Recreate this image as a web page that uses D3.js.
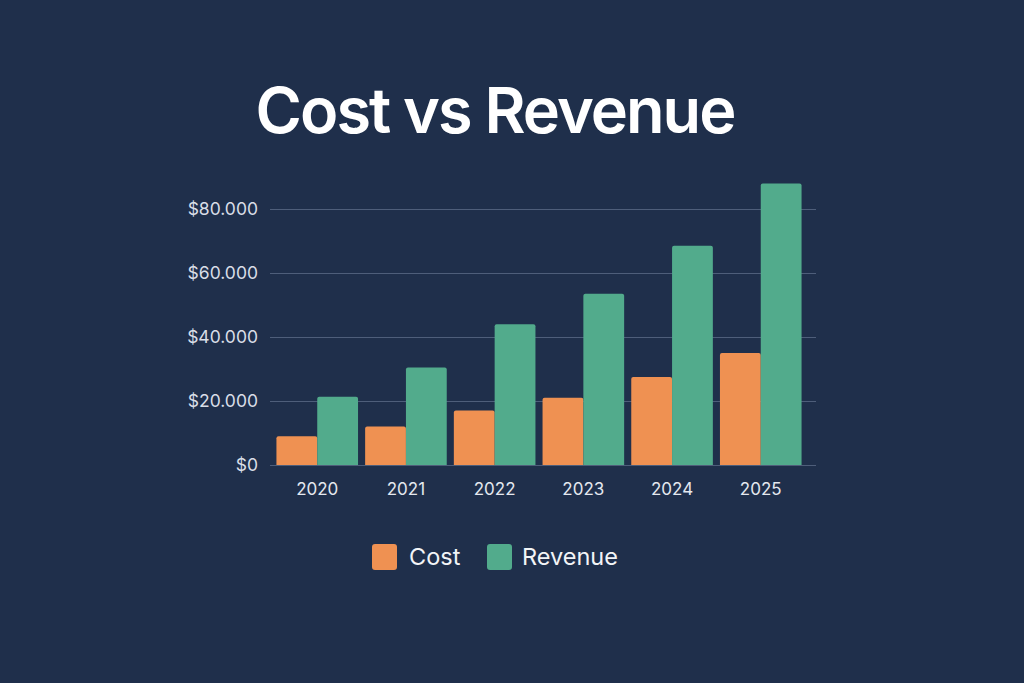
<!DOCTYPE html>
<html>
<head>
<meta charset="utf-8">
<script src="https://cdn.jsdelivr.net/npm/d3@7"></script>
<style>
  html, body { margin: 0; padding: 0; background: #1f2f4b; }
  svg { display: block; font-family: Inter, "Noto Sans", sans-serif; }
</style>
</head>
<body>
<div id="chart"></div>
<script>
// data
const years = ["2020", "2021", "2022", "2023", "2024", "2025"];
const cost = [9000, 12000, 17000, 21000, 27500, 35000];
const revenue = [21300, 30500, 44000, 53500, 68500, 88000];
const series = ["Cost", "Revenue"];
const yTicks = [0, 20000, 40000, 60000, 80000];

const width = 1024, height = 683;
const colors = { Cost: "#ef9152", Revenue: "#52ab8c" };

const svg = d3.select("#chart").append("svg")
  .attr("width", width)
  .attr("height", height);

svg.append("rect")
  .attr("width", width)
  .attr("height", height)
  .attr("fill", "#1f2f4b");

// title
svg.append("text")
  .attr("x", 495)
  .attr("y", 133)
  .attr("text-anchor", "middle")
  .attr("fill", "#ffffff")
  .attr("font-size", "63px")
  .attr("font-weight", 600)
  .attr("letter-spacing", "-2px")
  .text("Cost vs Revenue");

// scales
var x = d3.scaleBand()
  .domain(years)
  .range([272, 806])
  .paddingInner(0.08)
  .paddingOuter(0.05);

var xSub = d3.scaleBand()
  .domain(series)
  .range([0, x.bandwidth()]);

var y = d3.scaleLinear()
  .domain([0, 80000])
  .range([465, 209]);

const locale = d3.formatLocale({ decimal: ",", thousands: ".", grouping: [3], currency: ["$", ""] });
const fmt = locale.format("$,.0f");

// gridlines + y labels
var yAxis = d3.axisLeft(y)
  .tickValues(yTicks)
  .tickFormat(fmt)
  .tickSize(-(816 - 270))
  .tickPadding(12);

const yAxisGroup = svg.append("g")
  .attr("transform", "translate(270,0)")
  .call(yAxis);

yAxisGroup.select(".domain").remove();
yAxisGroup.selectAll(".tick line")
  .attr("stroke", "#4e5e7a")
  .attr("stroke-width", 1);
yAxisGroup.selectAll(".tick text")
  .attr("fill", "#d9dee7")
  .attr("font-size", "17.5px")
  .attr("font-family", "Inter, 'Noto Sans', sans-serif");

// x labels
var xAxis = d3.axisBottom(x).tickSize(0).tickPadding(16);
const xAxisGroup = svg.append("g")
  .attr("transform", "translate(0,467)")
  .call(xAxis);
xAxisGroup.select(".domain").remove();
xAxisGroup.selectAll(".tick text")
  .attr("fill", "#e4e8ef")
  .attr("font-size", "17px")
  .attr("font-family", "Inter, 'Noto Sans', sans-serif");

// bars
const rows = years.map((yr, i) => ({ year: yr, Cost: cost[i], Revenue: revenue[i] }));

function barPath(x0, w, top, bottom, r) {
  return `M${x0},${bottom}V${top + r}Q${x0},${top} ${x0 + r},${top}H${x0 + w - r}Q${x0 + w},${top} ${x0 + w},${top + r}V${bottom}Z`;
}

const groups = svg.selectAll(".group")
  .data(rows)
  .enter().append("g")
  .attr("class", "group")
  .attr("transform", d => "translate(" + x(d.year) + ",0)");

groups.selectAll("path")
  .data(d => series.map(s => ({ key: s, value: d[s] })))
  .enter().append("path")
  .attr("fill", d => colors[d.key])
  .attr("d", d => barPath(xSub(d.key), xSub.bandwidth(), y(d.value), y(0), 2));

// legend
const legend = [
  { key: "Cost", sx: 372, tx: 409 },
  { key: "Revenue", sx: 487, tx: 522 }
];
const lg = svg.append("g");
lg.selectAll("rect")
  .data(legend)
  .enter().append("rect")
  .attr("x", d => d.sx)
  .attr("y", 544)
  .attr("width", 25)
  .attr("height", 26)
  .attr("rx", 3)
  .attr("fill", d => colors[d.key]);
lg.selectAll("text")
  .data(legend)
  .enter().append("text")
  .attr("x", d => d.tx)
  .attr("y", 565)
  .attr("fill", "#f2f4f7")
  .attr("font-size", "23.5px")
  .text(d => d.key);
</script>
</body>
</html>
